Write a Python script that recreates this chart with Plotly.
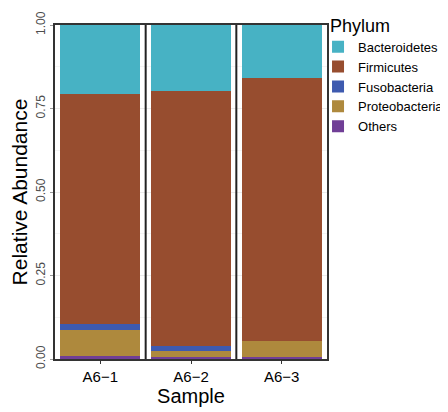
import plotly.graph_objects as go

# samples and phylum fractions (bottom to top of each bar)
samples = ["A6\u22121", "A6\u22122", "A6\u22123"]
phyla = ["Others", "Proteobacteria", "Fusobacteria", "Firmicutes", "Bacteroidetes"]

others = [0.008, 0.007, 0.005]
proteobacteria = [0.079, 0.016, 0.050]
fusobacteria = [0.017, 0.017, 0.000]
firmicutes = [0.6885, 0.762, 0.785]
bacteroidetes = [0.2075, 0.198, 0.160]

values = {
    "Others": others,
    "Proteobacteria": proteobacteria,
    "Fusobacteria": fusobacteria,
    "Firmicutes": firmicutes,
    "Bacteroidetes": bacteroidetes,
}

colors = {
    "Bacteroidetes": "#47B2C4",
    "Firmicutes": "#974D2F",
    "Fusobacteria": "#3E5AAF",
    "Proteobacteria": "#AE893D",
    "Others": "#703E96",
}

FONT = "Liberation Sans, Arial, sans-serif"

fig = go.Figure()
for name in phyla:
    fig.add_trace(go.Bar(
        x=samples,
        y=values[name],
        name=name,
        marker=dict(color=colors[name], line=dict(width=0)),
        width=0.88,
    ))

# black separators between the sample panels
for sep in [0.5, 1.5]:
    fig.add_vline(x=sep, line_color="#222222", line_width=2)

# page body has an 8px margin, so the figure is a bit smaller than the window
fig.update_layout(
    width=440,
    height=404,
    margin=dict(l=47, r=121, t=17, b=53, autoexpand=False),
    barmode="stack",
    bargap=0.12,
    plot_bgcolor="white",
    paper_bgcolor="white",
    font=dict(family=FONT, color="black"),
    legend=dict(
        title=dict(text="\u00a0\u00a0Phylum", font=dict(size=18, color="black")),
        font=dict(size=13, color="black"),
        traceorder="reversed",
        x=0.967,
        xanchor="left",
        y=1.05,
        yanchor="top",
        itemwidth=30,
        bgcolor="rgba(0,0,0,0)",
    ),
)

fig.update_yaxes(
    range=[0, 1],
    tickvals=[0, 0.25, 0.5, 0.75, 1.0],
    ticktext=["0.00", "0.25", "0.50", "0.75", "1.00"],
    tickangle=-90,
    tickfont=dict(size=12, color="#4D4D4D"),
    ticks="outside",
    ticklen=3,
    tickcolor="#999999",
    showgrid=True,
    gridcolor="#EBEBEB",
    gridwidth=1,
    minor=dict(dtick=0.125, showgrid=True, gridcolor="#F4F4F4"),
    showline=True,
    linecolor="#333333",
    linewidth=2,
    mirror=True,
    zeroline=False,
    title=dict(text="Relative Abundance", font=dict(size=21, color="black"), standoff=2),
)
fig.update_xaxes(
    range=[-0.5, 2.5],
    tickfont=dict(size=15, color="black"),
    ticks="outside",
    ticklen=3,
    tickcolor="#333333",
    showgrid=False,
    showline=True,
    linecolor="#333333",
    linewidth=2,
    mirror=True,
    title=dict(text="Sample", font=dict(size=20, color="black"), standoff=4),
)

fig.write_html("out.html")
